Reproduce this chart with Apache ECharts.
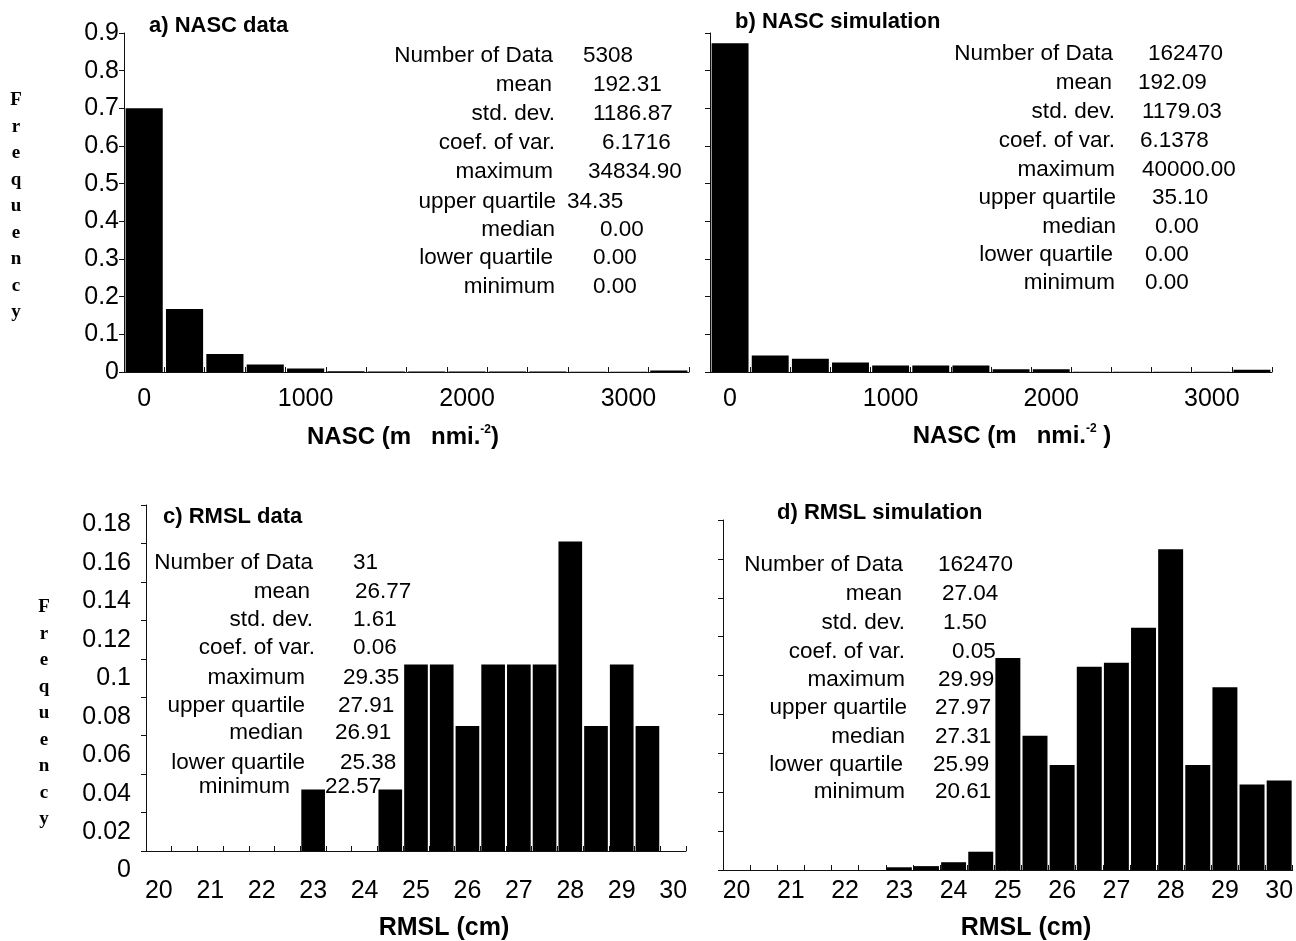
<!DOCTYPE html>
<html>
<head>
<meta charset="utf-8">
<script src="https://cdn.jsdelivr.net/npm/echarts@6/dist/echarts.min.js"></script>
<style>
html,body{margin:0;padding:0;background:#fff;}
#chart{width:1296px;height:941px;}
</style>
</head>
<body>
<div id="chart"></div>
<script>
// ---------- DATA ----------
const nascBins = ['0','250','500','750','1000','1250','1500','1750','2000','2250','2500','2750','3000','3250'];
const nascDataFreq = [0.700, 0.167, 0.048, 0.020, 0.009, 0.002, 0.001, 0.001, 0.001, 0.001, 0.001, 0.0005, 0.0005, 0.004];
const nascSimFreq  = [0.873, 0.044, 0.035, 0.025, 0.017, 0.017, 0.017, 0.007, 0.007, 0.0005, 0.0005, 0.0005, 0.0005, 0.006];

const rmslBins = ['20','20.5','21','21.5','22','22.5','23','23.5','24','24.5','25','25.5','26','26.5','27','27.5','28','28.5','29','29.5','30'];
const rmslDataFreq = [0,0,0,0,0,0,0.032,0,0,0.032,0.097,0.097,0.065,0.097,0.097,0.097,0.161,0.065,0.097,0.065,0];
const rmslSimFreq  = [0,0,0,0,0,0,0.0014,0.002,0.004,0.0094,0.109,0.069,0.054,0.1045,0.1066,0.1246,0.165,0.054,0.094,0.044,0.046];

const statLabels = ['Number of Data','mean','std. dev.','coef. of var.','maximum','upper quartile','median','lower quartile','minimum'];
const statsNascData = ['5308','192.31','1186.87','6.1716','34834.90','34.35','0.00','0.00','0.00'];
const statsNascSim  = ['162470','192.09','1179.03','6.1378','40000.00','35.10','0.00','0.00','0.00'];
const statsRmslData = ['31','26.77','1.61','0.06','29.35','27.91','26.91','25.38','22.57'];
const statsRmslSim  = ['162470','27.04','1.50','0.05','29.99','27.97','27.31','25.99','20.61'];

const panelTitles = ['a) NASC data','b) NASC simulation','c) RMSL data','d) RMSL simulation'];
const yAxisWord = 'Frequency';

// ---------- LAYOUT ----------
const FONT = '"Liberation Sans", Arial, Helvetica, sans-serif';
const grids = [
  {left:124, top:33,  width:565, height:339},
  {left:710, top:33,  width:562, height:339},
  {left:146, top:505, width:540, height:346},
  {left:723, top:520, width:573, height:350}
];
const statLayout = [
  {lx:[553,552,555,555,553,556,555,553,555], vx:[583,593,593,602,588,567,600,593,593], y:[56,85,114,143,172,202,230,258,287]},
  {lx:[1113,1112,1115,1115,1115,1116,1116,1113,1115], vx:[1148,1138,1142,1140,1142,1152,1155,1145,1145], y:[54,83,112,141,170,198,227,255,283]},
  {lx:[313,310,313,315,305,305,303,305,290], vx:[353,355,353,353,343,338,335,340,325], y:[563,592,620,648,678,706,733,763,787]},
  {lx:[903,902,905,905,905,907,905,903,905], vx:[938,942,943,952,938,935,935,933,935], y:[565,594,623,652,680,708,737,765,792]}
];
const statsAll = [statsNascData, statsNascSim, statsRmslData, statsRmslSim];
const titlePos = [[149,26],[735,22],[163,517],[777,513]];
const STAT_FONT = '22.5px ' + FONT;
const TICK_SIZE = 25;

const graphic = [];
function txt(x, y, text, font, align, valign) {
  graphic.push({type:'text', x:x, y:y, silent:true,
    style:{text:text, font:font, fill:'#000', textAlign:align, textVerticalAlign:valign, align:align, verticalAlign:valign}});
}
// stats blocks
for (let p = 0; p < 4; p++) {
  const L = statLayout[p];
  for (let i = 0; i < statLabels.length; i++) {
    txt(L.lx[i], L.y[i], statLabels[i], STAT_FONT, 'right', 'middle');
    txt(L.vx[i], L.y[i], statsAll[p][i], STAT_FONT, 'left', 'middle');
  }
  txt(titlePos[p][0], titlePos[p][1], panelTitles[p], 'bold 22px ' + FONT, 'left', 'middle');
}
// vertical "Frequency"
const vert = yAxisWord.split('').join('\n');
[[16, 87],[44, 594]].forEach(function(pt){
  graphic.push({type:'text', x:pt[0], y:pt[1], silent:true,
    style:{text:vert, font:'bold 19px "Liberation Serif", "Times New Roman", serif', fill:'#000',
      lineHeight:26.5, textAlign:'center', align:'center', textVerticalAlign:'top', verticalAlign:'top'}});
});
// axis names
const richName = {
  b:{fontFamily:FONT, fontWeight:'bold', fontSize:24, lineHeight:30, fill:'#000', color:'#000'},
  s:{fontFamily:FONT, fontWeight:'bold', fontSize:12, lineHeight:30, fill:'#000', color:'#000', padding:[0,0,14,0]}
};
function nameTxt(x, y, text) {
  graphic.push({type:'text', x:x, y:y, silent:true,
    style:{text:text, rich:richName, textAlign:'center', align:'center', textVerticalAlign:'middle', verticalAlign:'middle', fill:'#000'}});
}
nameTxt(403, 437, '{b|NASC (m   nmi.}{s|-2}{b|)}');
nameTxt(1012, 436, '{b|NASC (m   nmi.}{s|-2}{b| )}');
graphic.push({type:'text', x:444, y:928, silent:true, style:{text:'RMSL (cm)', font:'bold 25px ' + FONT, fill:'#000', textAlign:'center', align:'center', textVerticalAlign:'middle', verticalAlign:'middle'}});
graphic.push({type:'text', x:1026, y:928, silent:true, style:{text:'RMSL (cm)', font:'bold 25px ' + FONT, fill:'#000', textAlign:'center', align:'center', textVerticalAlign:'middle', verticalAlign:'middle'}});

// ---------- AXES ----------
const lineCol = '#111';
function xCat(idx, data, labelInterval, margin) {
  return {type:'category', gridIndex:idx, data:data, boundaryGap:true,
    axisLine:{show:true, lineStyle:{color:lineCol, width:1}},
    axisTick:{show:true, interval:0, inside:true, length:5, lineStyle:{color:lineCol}},
    axisLabel:{interval:labelInterval, margin:margin, fontSize:TICK_SIZE, fontFamily:FONT, color:'#000'},
    splitLine:{show:false}};
}
function yVal(idx, max, interval, showLabel, labelExtra) {
  return {type:'value', gridIndex:idx, min:0, max:max, interval:interval,
    axisLine:{show:true, lineStyle:{color:lineCol, width:1}},
    axisTick:{show:true, inside:false, length:5, lineStyle:{color:lineCol}},
    axisLabel:Object.assign({show:showLabel, fontSize:TICK_SIZE, fontFamily:FONT, color:'#000', margin:5}, labelExtra||{}),
    splitLine:{show:false}};
}

const option = {
  animation:false,
  backgroundColor:'#fff',
  grid: grids,
  xAxis: [
    xCat(0, nascBins, 3, 15),
    xCat(1, nascBins, 3, 15),
    xCat(2, rmslBins, 1, 28),
    xCat(3, rmslBins, 1, 9)
  ],
  yAxis: [
    yVal(0, 0.9, 0.1, true),
    yVal(1, 0.9, 0.1, false),
    yVal(2, 0.18, 0.02, true, {margin:15, verticalAlign:'top', padding:[7,0,0,0]}),
    yVal(3, 0.18, 0.02, false)
  ],
  series: [
    {type:'bar', xAxisIndex:0, yAxisIndex:0, data:nascDataFreq, barCategoryGap:'8%', itemStyle:{color:'#000'}, silent:true},
    {type:'bar', xAxisIndex:1, yAxisIndex:1, data:nascSimFreq, barCategoryGap:'8%', itemStyle:{color:'#000'}, silent:true},
    {type:'bar', xAxisIndex:2, yAxisIndex:2, data:rmslDataFreq, barCategoryGap:'8%', itemStyle:{color:'#000'}, silent:true},
    {type:'bar', xAxisIndex:3, yAxisIndex:3, data:rmslSimFreq, barCategoryGap:'8%', itemStyle:{color:'#000'}, silent:true}
  ],
  graphic: graphic
};

const chart = echarts.init(document.getElementById('chart'), null, {renderer:'canvas'});
chart.setOption(option);
</script>
</body>
</html>
